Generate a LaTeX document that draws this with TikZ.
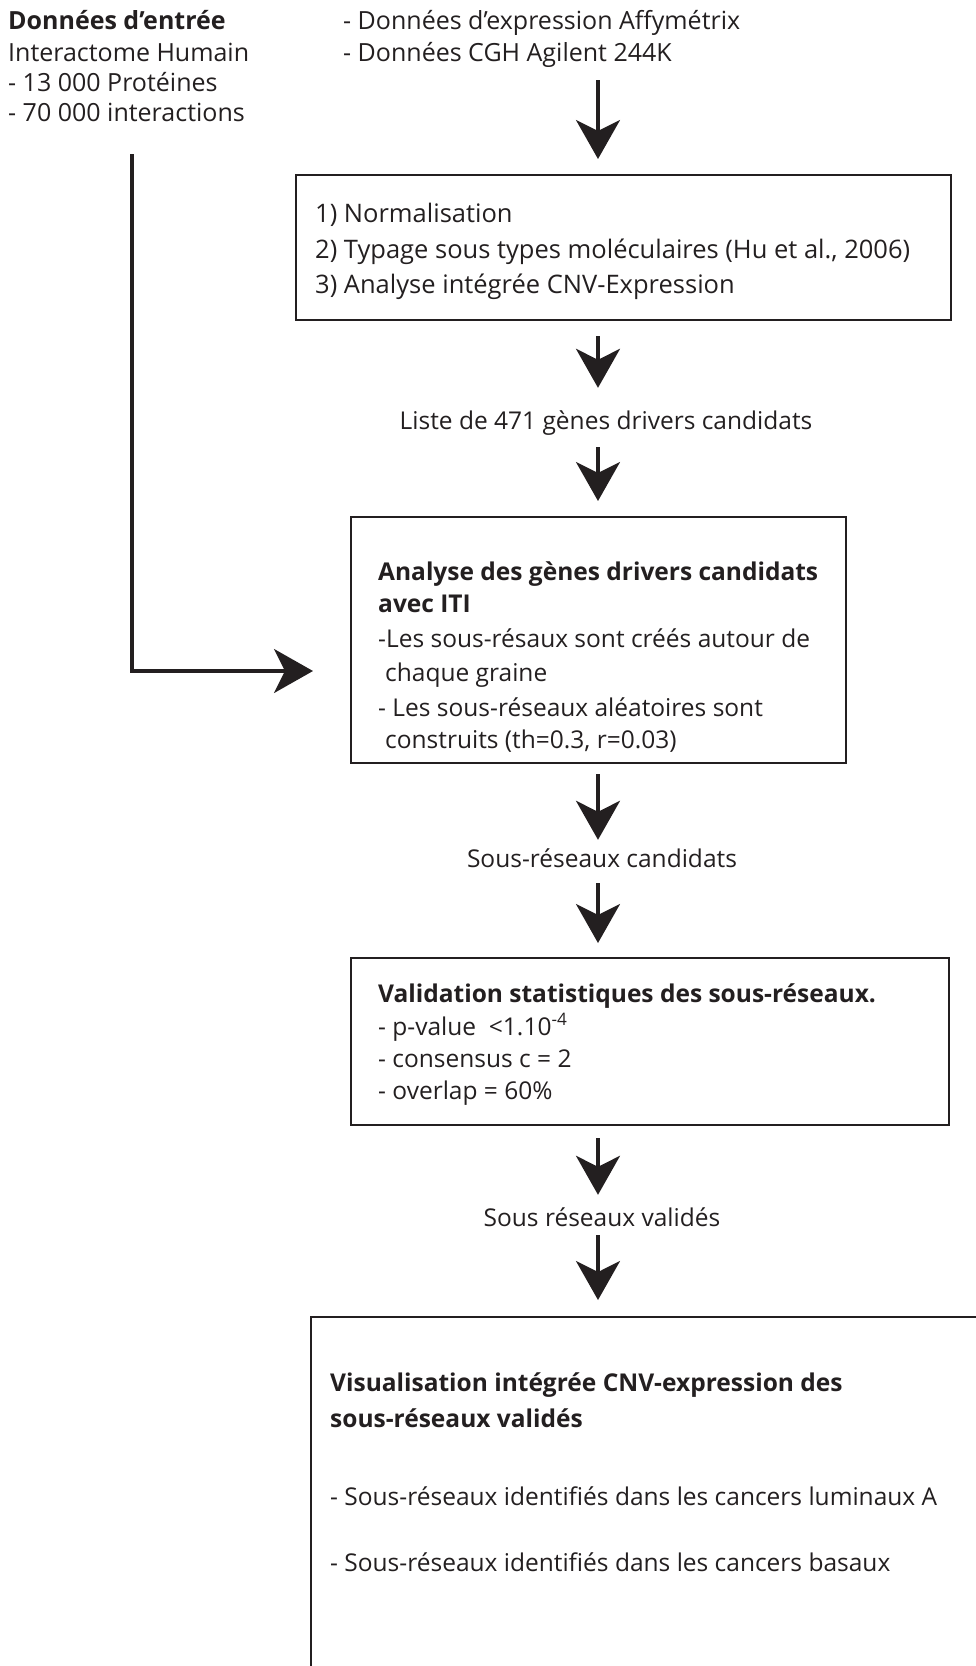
\documentclass[tikz,border=0pt]{standalone}
\usepackage{fontspec}
\setmainfont{Open Sans}
\usetikzlibrary{arrows.meta}
\definecolor{ink}{RGB}{35,31,32}
\begin{document}
\begin{tikzpicture}[x=1pt,y=-1pt,
  every node/.style={inner sep=0pt, text=ink},
  txt/.style={anchor=west, text height=18pt, text depth=0pt, font=\fontsize{24.5}{30}\selectfont},
  boldtxt/.style={txt, font=\bfseries\fontsize{24.5}{30}\selectfont},
  bigtxt/.style={txt, font=\fontsize{25.5}{30}\selectfont},
  toptxt/.style={txt, font=\fontsize{25}{30}\selectfont},
  lbl/.style={anchor=center, text height=18pt, text depth=0pt, font=\fontsize{24.5}{30}\selectfont},
  framebox/.style={draw=ink, line width=2pt, anchor=north west},
  flow/.style={draw=ink, line width=3.3pt, line join=miter,
    -{Stealth[length=39pt, width=44pt, inset=11pt]}}
]
\useasboundingbox (0,0) rectangle (976,1666);
\clip (0,0) rectangle (976,1666);

% input data
\node[toptxt, font=\bfseries\fontsize{25}{30}\selectfont] (inhead) at (8,20) {Données d’entrée};
\node[toptxt] (in1) at (8,52) {Interactome Humain};
\node[toptxt] (in2) at (8,82) {- 13 000 Protéines};
\node[toptxt] (in3) at (8,112) {- 70 000 interactions};
\node[toptxt] (data1) at (343,20) {- Données d’expression Affymétrix};
\node[toptxt] (data2) at (343,52) {- Données CGH Agilent 244K};

% guide positions for the connectors
\coordinate (ax) at (598,0);
\coordinate (lx) at (132,671);

% step 1: preprocessing
\node[framebox, minimum width=655pt, minimum height=145pt] (b1) at (295,174) {};
\node[bigtxt] (b1l1) at (315,213) {1) Normalisation};
\node[bigtxt] (b1l2) at (315,249) {2) Typage sous types moléculaires (Hu et al., 2006)};
\node[bigtxt] (b1l3) at (315,284) {3) Analyse intégrée CNV-Expression};

\node[lbl] (liste) at (606,420) {Liste de 471 gènes drivers candidats};

% step 2: ITI analysis
\node[framebox, minimum width=495pt, minimum height=246pt] (b2) at (350,516) {};
\node[boldtxt] (b2l1) at (378,571) {Analyse des gènes drivers candidats};
\node[boldtxt] (b2l2) at (378,603) {avec ITI};
\node[txt] (b2l3) at (378,638) {-Les sous-résaux sont créés autour de};
\node[txt] (b2l4) at (385,672) {chaque graine};
\node[txt] (b2l5) at (378,707) {- Les sous-réseaux aléatoires sont};
\node[txt] (b2l6) at (385,739) {construits (th=0.3, r=0.03)};

\node[lbl] (cand) at (602,858) {Sous-réseaux candidats};

% step 3: statistical validation
\node[framebox, minimum width=598pt, minimum height=167pt] (b3) at (350,957) {};
\node[boldtxt] (b3l1) at (378,993) {Validation statistiques des sous-réseaux.};
\node[txt] (b3l2) at (378,1026) {- p-value~ <1.10\textsuperscript{-4}};
\node[txt] (b3l3) at (378,1058) {- consensus c = 2};
\node[txt] (b3l4) at (378,1090) {- overlap = 60\%};

\node[lbl] (val) at (602,1217) {Sous réseaux validés};

% step 4: visualisation
\node[framebox, minimum width=800pt, minimum height=500pt] (b4) at (310,1316) {};
\node[boldtxt] (b4l1) at (330,1382) {Visualisation intégrée CNV-expression des};
\node[boldtxt] (b4l2) at (330,1418) {sous-réseaux validés};
\node[txt] (b4l3) at (330,1496) {- Sous-réseaux identifiés dans les cancers luminaux A};
\node[txt] (b4l4) at (330,1562) {- Sous-réseaux identifiés dans les cancers basaux};

% connectors
\draw[flow, shorten <=19pt, shorten >=15pt] (data2.south -| ax) -- (b1.north -| ax);
\draw[flow, shorten <=15pt, shorten >=23pt] (b1.south -| ax) -- (liste.north -| ax);
\draw[flow, shorten <=18pt, shorten >=15pt] (liste.south -| ax) -- (b2.north -| ax);
\draw[flow, shorten <=10pt, shorten >=9pt] (b2.south -| ax) -- (cand.north -| ax);
\draw[flow, shorten <=16pt, shorten >=14pt] (cand.south -| ax) -- (b3.north -| ax);
\draw[flow, shorten <=12pt, shorten >=13pt] (b3.south -| ax) -- (val.north -| ax);
\draw[flow, shorten <=9pt, shorten >=16pt] (val.south -| ax) -- (b4.north -| ax);
\draw[flow, shorten <=33pt, shorten >=37pt] (in3.south -| lx) -- (lx) -- (lx -| b2.west);
\end{tikzpicture}
\end{document}
